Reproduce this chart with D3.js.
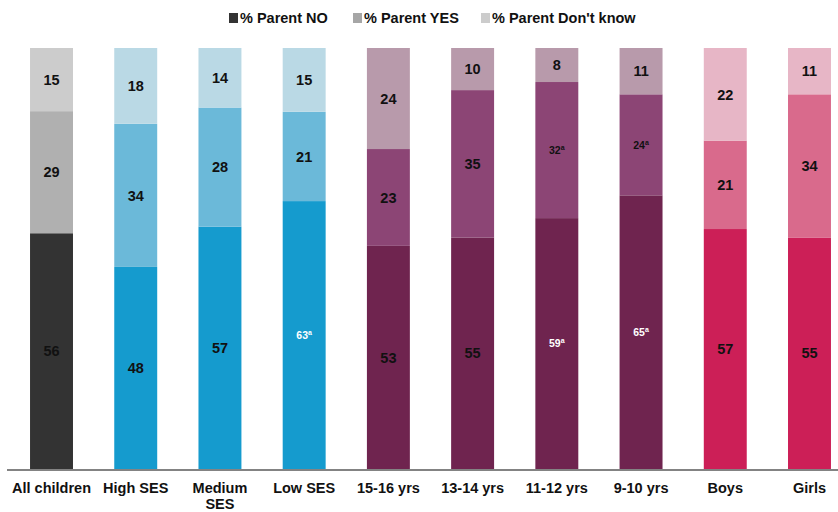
<!DOCTYPE html>
<html>
<head>
<meta charset="utf-8">
<script src="https://cdn.jsdelivr.net/npm/d3@7"></script>
<style>
  body { margin: 0; background: #fff; }
  text { font-family: "Liberation Sans", Arial, sans-serif; font-weight: bold; }
</style>
</head>
<body>
<div id="chart"></div>
<script>
// Categories and tick labels
const categories = ["All children", "High SES", "Medium SES", "Low SES", "15-16 yrs", "13-14 yrs", "11-12 yrs", "9-10 yrs", "Boys", "Girls"];
const tickLabels = [["All children"], ["High SES"], ["Medium", "SES"], ["Low SES"], ["15-16 yrs"], ["13-14 yrs"], ["11-12 yrs"], ["9-10 yrs"], ["Boys"], ["Girls"]];
const groups = ["all", "ses", "ses", "ses", "age", "age", "age", "age", "gender", "gender"];

// Series values (percent)
const parentNo = [56, 48, 57, 63, 53, 55, 59, 65, 57, 55];
const parentYes = [29, 34, 28, 21, 23, 35, 32, 24, 21, 34];
const parentDontKnow = [15, 18, 14, 15, 24, 10, 8, 11, 22, 11];

// significance flags ("a" superscript)
const noFlag = [false, false, false, true, false, false, true, true, false, false];
const yesFlag = [false, false, false, false, false, false, true, true, false, false];

const seriesKeys = ["no", "yes", "dk"];
const seriesNames = ["% Parent NO", "% Parent YES", "% Parent Don't know"];
const legendColors = ["#333333", "#a6a6a6", "#cccccc"];

const palette = {
    all: ["#333333", "#b0b0b0", "#cccccc"],
    ses: ["#159bce", "#6bb9d9", "#bad9e5"],
    age: ["#6f244f", "#8c4575", "#b89aab"],
    gender: ["#cc1f57", "#d96a8c", "#e7b6c6"]
};

const data = categories.map((c, i) => ({
    cat: c, group: groups[i],
    no: parentNo[i], yes: parentYes[i], dk: parentDontKnow[i],
    flags: [noFlag[i], yesFlag[i], false]
}));

const width = 838, height = 512;

const svg = d3.select('#chart')
    .append('svg')
    .attr('width', width)
    .attr('height', height);

const xScale = d3.scaleBand()
    .domain(categories)
    .range([9.4, 851.6])
    .paddingInner(0.49)
    .paddingOuter(0.245);

const yScale = d3.scaleLinear()
    .domain([0, 1])
    .range([469, 48]);

const stack = d3.stack()
    .keys(seriesKeys)
    .offset(d3.stackOffsetExpand);

const stacked = stack(data);

// Bars
stacked.forEach((layer, k) => {
    const g = svg.append('g');
    g.selectAll('rect')
        .data(layer)
        .enter().append('rect')
        .attr('x', d => xScale(d.data.cat))
        .attr('y', d => yScale(d[1]))
        .attr('width', xScale.bandwidth())
        .attr('height', d => yScale(d[0]) - yScale(d[1]))
        .attr('fill', d => palette[d.data.group][k]);

    g.selectAll('text')
        .data(layer)
        .enter().append('text')
        .attr('x', d => xScale(d.data.cat) + xScale.bandwidth() / 2)
        .attr('y', d => (yScale(d[0]) + yScale(d[1])) / 2)
        .attr('dy', '0.36em')
        .attr('text-anchor', 'middle')
        .each(function(d) {
            const t = d3.select(this);
            const flagged = d.data.flags[k];
            const val = d.data[seriesKeys[k]];
            if (flagged) {
                t.style('font-size', '10.5px')
                    .attr('fill', k === 0 ? '#ffffff' : '#111111');
                t.append('tspan').text(val);
                t.append('tspan').text('a')
                    .style('font-size', '7px')
                    .attr('dy', '-0.55em');
            } else {
                t.style('font-size', '14.5px')
                    .attr('fill', '#111111')
                    .text(val);
            }
        });
});

// X axis
const xAxis = svg.append('g')
    .attr('transform', 'translate(0,470)')
    .call(d3.axisBottom(xScale).tickSize(0).tickPadding(13));

xAxis.select('.domain').remove();
xAxis.selectAll('.tick text')
    .style('font-size', '14.5px')
    .attr('fill', '#111111')
    .each(function(d, i) {
        const t = d3.select(this);
        const lines = tickLabels[i];
        t.text(null);
        lines.forEach((line, j) => {
            t.append('tspan')
                .attr('x', 0)
                .attr('dy', j === 0 ? '0.71em' : '1.1em')
                .text(line);
        });
    });

svg.append('line')
    .attr('x1', 7)
    .attr('x2', 838)
    .attr('y1', 470)
    .attr('y2', 470)
    .attr('stroke', '#5a5a5a')
    .attr('stroke-width', 1.5);

// Legend
const legendX = [229, 353, 481];
const legend = svg.append('g');
seriesNames.forEach((name, i) => {
    legend.append('rect')
        .attr('x', legendX[i])
        .attr('y', 13)
        .attr('width', 9)
        .attr('height', 10)
        .attr('fill', legendColors[i]);
    legend.append('text')
        .attr('x', legendX[i] + 11)
        .attr('y', 23)
        .style('font-size', '14.5px')
        .attr('fill', '#111111')
        .text(name);
});
</script>
</body>
</html>
